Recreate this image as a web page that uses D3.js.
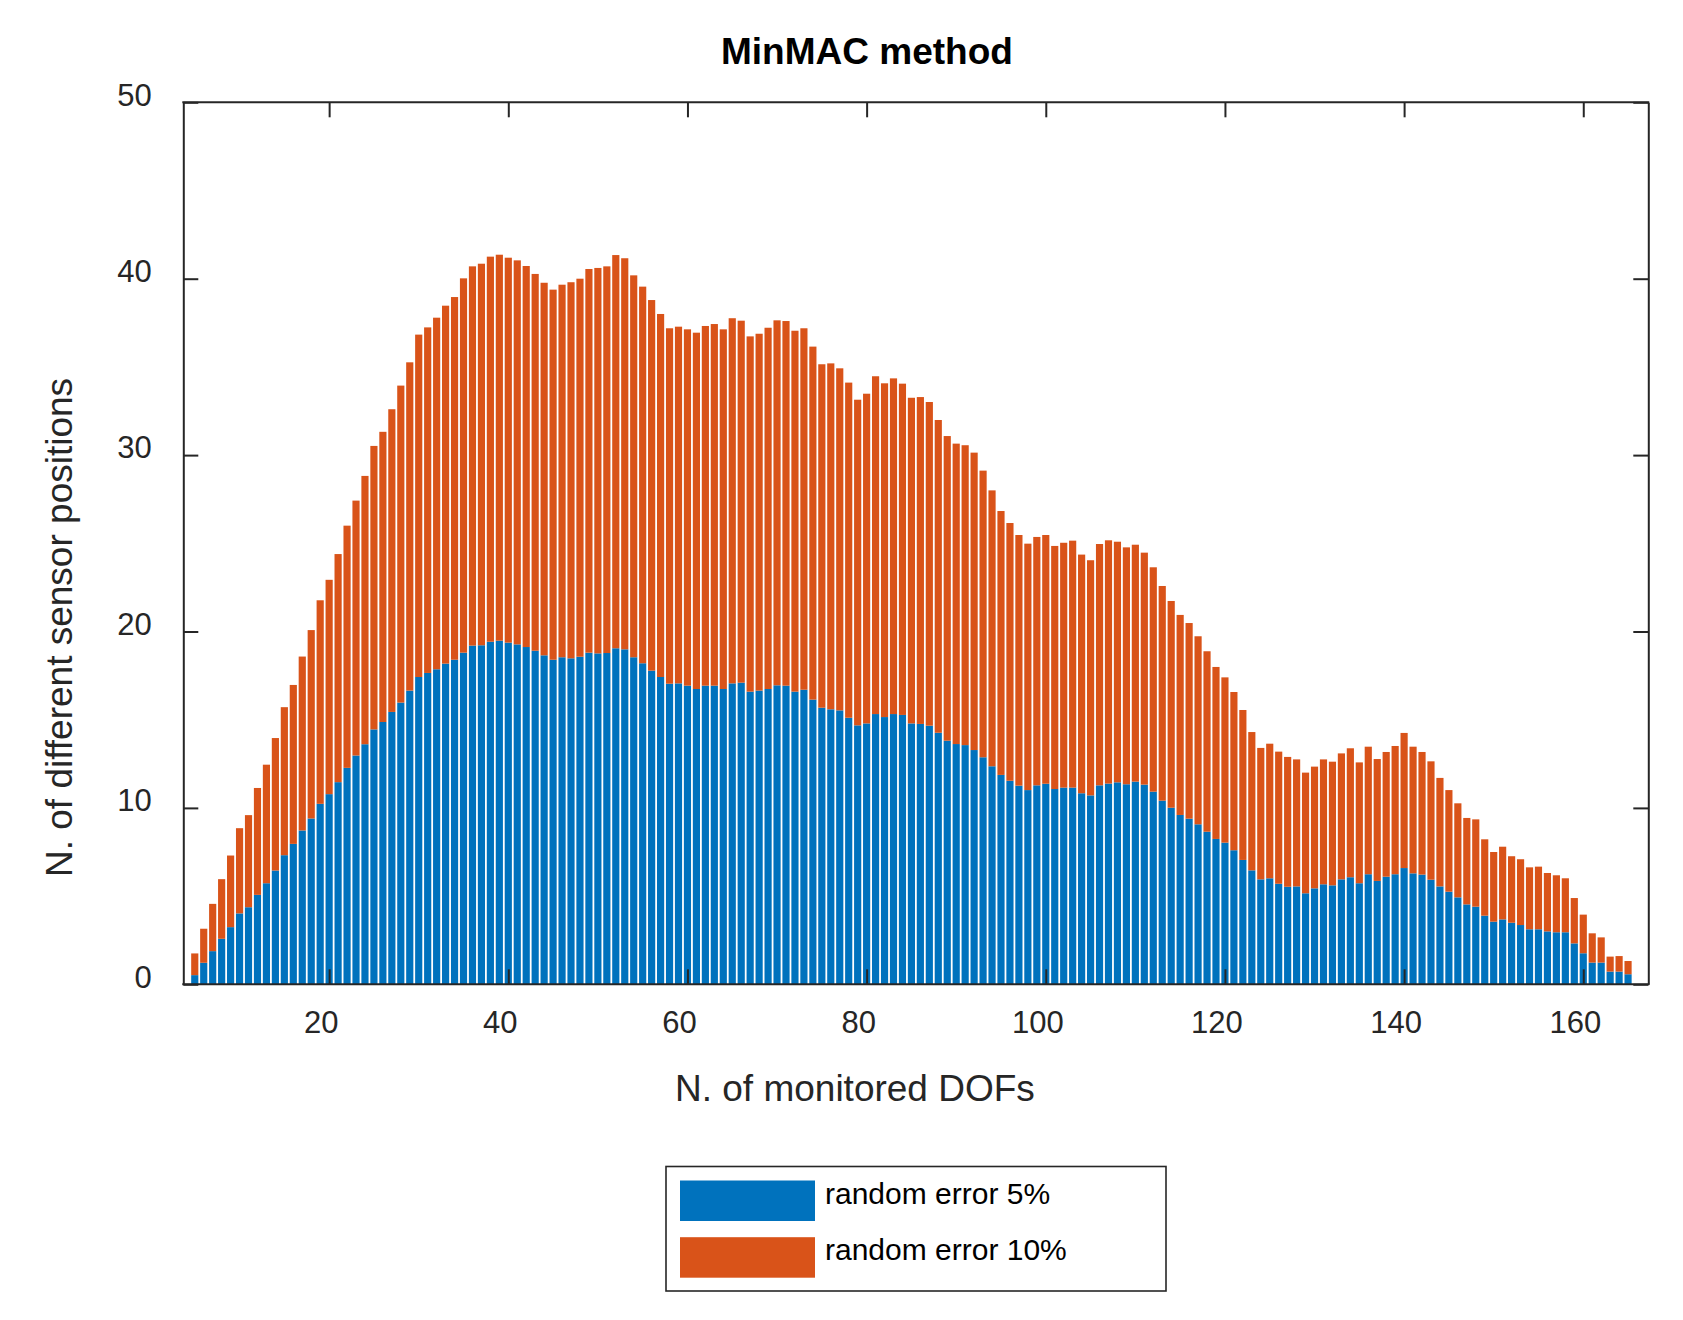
<!DOCTYPE html>
<html>
<head>
<meta charset="utf-8">
<script src="https://cdn.jsdelivr.net/npm/d3@7"></script>
<style>
  html, body { margin: 0; padding: 0; background: #ffffff; }
  svg { display: block; font-family: "Liberation Sans", Arial, Helvetica, sans-serif; }
</style>
</head>
<body>
<svg id="chart" width="1683" height="1320"></svg>
<script>
// ---- data ----
const dofs = d3.range(5, 166); // 5 .. 165

const error5 = [
  0.52, 1.22, 1.88, 2.58, 3.24, 4.02, 4.37, 5.07, 5.73, 6.45,
  7.32, 7.96, 8.72, 9.40, 10.23, 10.78, 11.46, 12.27, 12.97, 13.61,
  14.45, 14.87, 15.44, 15.97, 16.65, 17.42, 17.65, 17.86, 18.18, 18.40,
  18.80, 19.20, 19.22, 19.42, 19.48, 19.37, 19.27, 19.12, 18.91, 18.65,
  18.40, 18.54, 18.48, 18.57, 18.80, 18.76, 18.78, 19.05, 18.99, 18.54,
  18.20, 17.78, 17.42, 17.04, 17.06, 16.93, 16.74, 16.93, 16.93, 16.74,
  17.06, 17.10, 16.59, 16.65, 16.74, 16.95, 16.93, 16.59, 16.70, 16.14,
  15.68, 15.59, 15.53, 15.11, 14.68, 14.79, 15.32, 15.15, 15.32, 15.27,
  14.79, 14.76, 14.66, 14.26, 13.81, 13.62, 13.56, 13.28, 12.87, 12.36,
  11.87, 11.54, 11.26, 11.01, 11.28, 11.37, 11.07, 11.15, 11.15, 10.83,
  10.71, 11.28, 11.38, 11.45, 11.34, 11.49, 11.32, 10.92, 10.41, 10.01,
  9.60, 9.39, 9.07, 8.65, 8.24, 8.03, 7.60, 7.05, 6.46, 5.95,
  6.01, 5.70, 5.53, 5.55, 5.16, 5.44, 5.67, 5.61, 5.95, 6.07,
  5.73, 6.24, 5.86, 6.10, 6.24, 6.59, 6.29, 6.22, 5.93, 5.55,
  5.25, 4.93, 4.53, 4.40, 3.89, 3.55, 3.68, 3.49, 3.36, 3.12,
  3.12, 3.00, 2.95, 2.95, 2.32, 1.76, 1.23, 1.23, 0.72, 0.72,
  0.57
];

const error10 = [
  1.23, 1.93, 2.68, 3.38, 4.06, 4.83, 5.22, 6.06, 6.72, 7.51,
  8.39, 9.01, 9.86, 10.68, 11.54, 12.15, 12.93, 13.73, 14.45, 15.21,
  16.07, 16.45, 17.16, 17.97, 18.61, 19.41, 19.59, 19.93, 20.29, 20.56,
  21.22, 21.50, 21.63, 21.83, 21.88, 21.82, 21.77, 21.60, 21.36, 21.12,
  20.98, 21.12, 21.32, 21.43, 21.75, 21.85, 21.92, 22.29, 22.17, 21.65,
  21.35, 21.01, 20.58, 20.15, 20.22, 20.20, 20.20, 20.39, 20.50, 20.39,
  20.70, 20.52, 20.14, 20.23, 20.48, 20.69, 20.67, 20.46, 20.49, 20.01,
  19.47, 19.61, 19.39, 19.00, 18.46, 18.69, 19.15, 18.92, 19.03, 18.78,
  18.46, 18.53, 18.35, 17.73, 17.27, 17.03, 17.00, 16.86, 16.25, 15.64,
  14.96, 14.61, 14.21, 13.97, 14.08, 14.10, 13.78, 13.88, 14.00, 13.53,
  13.33, 13.68, 13.79, 13.64, 13.43, 13.43, 13.15, 12.72, 12.17, 11.72,
  11.34, 11.09, 10.66, 10.23, 9.75, 9.37, 8.97, 8.50, 7.84, 7.45,
  7.63, 7.49, 7.36, 7.20, 6.84, 6.90, 7.08, 7.01, 7.14, 7.31,
  6.85, 7.23, 6.91, 7.07, 7.27, 7.66, 7.18, 6.95, 6.71, 6.15,
  5.76, 5.33, 4.90, 4.95, 4.33, 3.95, 4.12, 3.77, 3.73, 3.51,
  3.55, 3.31, 3.23, 3.06, 2.57, 2.19, 1.66, 1.43, 0.85, 0.88,
  0.75
];

const seriesNames = ["random error 5%", "random error 10%"];
const seriesColors = ["#0072BD", "#D95319"];
const xTicks = [20, 40, 60, 80, 100, 120, 140, 160];
const yTicks = [0, 10, 20, 30, 40, 50];

// ---- layout ----
const svg = d3.select("#chart");
const L = 183.3, R = 1648.3, T = 102.3, B = 984.3;
const axisColor = "#262626";

const x = d3.scaleLinear().domain([3.72, 167.26]).range([L, R]);
const y = d3.scaleLinear().domain([0, 50]).range([B, T]);

const rows = dofs.map((d, i) => ({ dof: d, e5: error5[i], e10: error10[i] }));
const stack = d3.stack().keys(["e5", "e10"]);
const layers = stack(rows);

const barW = x(0.8) - x(0);

// bars
svg.append("g").selectAll("g")
  .data(layers)
  .join("g")
  .attr("fill", (d, i) => seriesColors[i])
  .selectAll("rect")
  .data(d => d)
  .join("rect")
  .attr("x", d => x(d.data.dof) - barW / 2)
  .attr("width", barW)
  .attr("y", d => y(d[1]))
  .attr("height", d => y(d[0]) - y(d[1]));

// axes
const tickLen = 15;
const fontTick = 31;

const gB = svg.append("g").attr("transform", `translate(0,${B})`)
  .call(d3.axisBottom(x).tickValues(xTicks).tickSizeInner(-tickLen).tickSizeOuter(0).tickPadding(0));
const gT = svg.append("g").attr("transform", `translate(0,${T})`)
  .call(d3.axisTop(x).tickValues(xTicks).tickSizeInner(-tickLen).tickSizeOuter(0).tickFormat(""));
const gL = svg.append("g").attr("transform", `translate(${L},0)`)
  .call(d3.axisLeft(y).tickValues(yTicks).tickSizeInner(-tickLen).tickSizeOuter(0).tickPadding(0));
const gR = svg.append("g").attr("transform", `translate(${R},0)`)
  .call(d3.axisRight(y).tickValues(yTicks).tickSizeInner(-tickLen).tickSizeOuter(0).tickFormat(""));

[gB, gT, gL, gR].forEach(g => {
  g.select(".domain").attr("stroke", axisColor).attr("stroke-width", 2);
  g.selectAll(".tick line").attr("stroke", axisColor).attr("stroke-width", 2);
  g.selectAll("text").attr("font-family", null).attr("font-size", fontTick).attr("fill", axisColor);
});
// extend domains to close the box corners
gB.select(".domain").attr("d", `M${L - 1},0H${R + 1}`);
gT.select(".domain").attr("d", `M${L - 1},0H${R + 1}`);

gB.selectAll(".tick text").attr("y", 48.7).attr("dy", null).attr("dx", -8.5);
gL.selectAll(".tick text").attr("x", 151.7 - L).attr("dy", null).attr("y", 2.7);

// title and labels
svg.append("text")
  .attr("x", 721).attr("y", 64)
  .attr("font-size", 37).attr("font-weight", "bold").attr("fill", "#000")
  .text("MinMAC method");

svg.append("text")
  .attr("x", 675).attr("y", 1101)
  .attr("font-size", 37).attr("fill", axisColor)
  .text("N. of monitored DOFs");

svg.append("text")
  .attr("transform", "translate(72,877) rotate(-90)")
  .attr("font-size", 37).attr("fill", axisColor)
  .text("N. of different sensor positions");

// legend
const leg = svg.append("g");
leg.append("rect")
  .attr("x", 666).attr("y", 1166.5).attr("width", 500).attr("height", 124.5)
  .attr("fill", "#fff").attr("stroke", axisColor).attr("stroke-width", 1.6);
const legRows = leg.selectAll("g.item").data(seriesNames).join("g").attr("class", "item")
  .attr("transform", (d, i) => `translate(0,${i * 56.7})`);
legRows.append("rect")
  .attr("x", 680).attr("y", 1180.5).attr("width", 135).attr("height", 40.5)
  .attr("fill", (d, i) => seriesColors[i]);
legRows.append("text")
  .attr("x", 825).attr("y", 1203.5)
  .attr("font-size", 30).attr("fill", "#000")
  .text(d => d);
</script>
</body>
</html>
